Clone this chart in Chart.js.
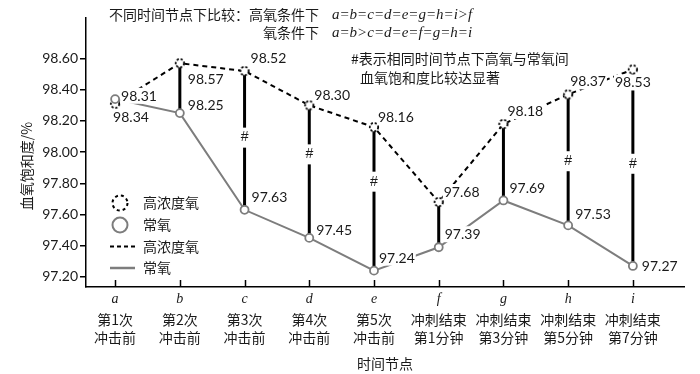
<!DOCTYPE html>
<html>
<head>
<meta charset="utf-8">
<script src="https://cdn.jsdelivr.net/npm/chart.js@4.4.1/dist/chart.umd.min.js"></script>
<style>
html,body{margin:0;padding:0;background:#fff;}
#wrap{width:700px;height:374px;position:relative;}
</style>
</head>
<body>
<div id="wrap"><canvas id="c" width="700" height="374"></canvas></div>
<script>
// ---- data ----
const categories = ['a','b','c','d','e','f','g','h','i'];
const timeLabels = [
  ['第1次','冲击前'],['第2次','冲击前'],['第3次','冲击前'],['第4次','冲击前'],['第5次','冲击前'],
  ['冲刺结束','第1分钟'],['冲刺结束','第3分钟'],['冲刺结束','第5分钟'],['冲刺结束','第7分钟']
];
const highOxygen = [98.31, 98.57, 98.52, 98.30, 98.16, 97.68, 98.18, 98.37, 98.53];
const normalOxygen = [98.34, 98.25, 97.63, 97.45, 97.24, 97.39, 97.69, 97.53, 97.27];
const significant = [false, false, true, true, true, false, false, true, true];
const yTickValues = [97.20, 97.40, 97.60, 97.80, 98.00, 98.20, 98.40, 98.60];
const seriesNames = ['高浓度氧', '常氧'];
const xTitle = '时间节点';
const yTitle = '血氧饱和度/%';
const noteLines = ['不同时间节点下比较：高氧条件下', '氧条件下'];
const noteFormulas = ['a=b=c=d=e=g=h=i>f', 'a=b>c=d=e=f=g=h=i'];
const sigNote = ['#表示相同时间节点下高氧与常氧间', '血氧饱和度比较达显著'];

// ---- styles ----
const TXT = '#1a1a1a';
const GRAY = '#7d7d7d';
const NUMFONT = '14px Lato, "Liberation Sans", sans-serif';
const CJK = '"Noto Sans CJK SC", "Noto Sans", sans-serif';

function dashedCircle(r, lw, dash) {
  const s = Math.ceil(2 * r + lw * 2 + 2);
  const cv = document.createElement('canvas');
  cv.width = s; cv.height = s;
  const g = cv.getContext('2d');
  g.fillStyle = '#fff';
  g.beginPath(); g.arc(s/2, s/2, r, 0, Math.PI*2); g.fill();
  g.strokeStyle = '#000'; g.lineWidth = lw; g.setLineDash(dash);
  g.beginPath(); g.arc(s/2, s/2, r, 0, Math.PI*2); g.stroke();
  return cv;
}
const highMarker = dashedCircle(4.2, 1.8, [2.2, 1.8]);

const highLabelPos = [[6,-8,'left'],[8,16,'left'],[6,-13,'left'],[5,-10,'left'],[4,-10,'left'],[5,-10,'left'],[4,-13,'left'],[2,-13,'left'],[0,13,'center']];
const normLabelPos = [[-2,18,'left'],[8,-8,'left'],[7,-13,'left'],[7,-8,'left'],[5,-13,'left'],[6,-13,'left'],[6,-12,'left'],[7,-11,'left'],[9,0,'left']];
const hashFrac = [0.5,0.5,0.48,0.37,0.38,0.5,0.5,0.51,0.48];

function labelText(ctx, text, x, y, align) {
  ctx.font = NUMFONT;
  const w = ctx.measureText(text).width;
  let left = align === 'center' ? x - w/2 : x;
  ctx.fillStyle = '#fff';
  ctx.fillRect(left - 1, y - 8, w + 2, 16);
  ctx.fillStyle = TXT;
  ctx.textAlign = 'left';
  ctx.textBaseline = 'middle';
  ctx.fillText(text, left, y + 0.5);
}

const annot = {
  id: 'annot',
  beforeDatasetsDraw(chart) {
    const ctx = chart.ctx, xs = chart.scales.x, ys = chart.scales.y;
    ctx.save();
    ctx.strokeStyle = '#000';
    ctx.lineWidth = 3;
    for (let i = 1; i < categories.length; i++) {
      const x = xs.getPixelForValue(i);
      ctx.beginPath();
      ctx.moveTo(x, ys.getPixelForValue(highOxygen[i]));
      ctx.lineTo(x, ys.getPixelForValue(normalOxygen[i]));
      ctx.stroke();
    }
    ctx.restore();
  },
  afterDatasetsDraw(chart) {
    const ctx = chart.ctx, xs = chart.scales.x, ys = chart.scales.y;
    ctx.save();
    // hashes
    for (let i = 0; i < categories.length; i++) {
      if (!significant[i]) continue;
      const x = xs.getPixelForValue(i);
      const y1 = ys.getPixelForValue(highOxygen[i]);
      const y2 = ys.getPixelForValue(normalOxygen[i]);
      const y = y1 + (y2 - y1) * hashFrac[i];
      ctx.fillStyle = '#fff';
      ctx.fillRect(x - 5, y - 10, 10, 20);
      ctx.fillStyle = TXT;
      ctx.font = '14px "Liberation Sans", sans-serif';
      ctx.textAlign = 'center';
      ctx.textBaseline = 'middle';
      ctx.fillText('#', x, y);
    }
    // value labels
    for (let i = 0; i < categories.length; i++) {
      const x = xs.getPixelForValue(i);
      let p = highLabelPos[i];
      labelText(ctx, highOxygen[i].toFixed(2), x + p[0], ys.getPixelForValue(highOxygen[i]) + p[1], p[2]);
      p = normLabelPos[i];
      labelText(ctx, normalOxygen[i].toFixed(2), x + p[0], ys.getPixelForValue(normalOxygen[i]) + p[1], p[2]);
    }
    ctx.restore();
  },
  afterDraw(chart) {
    const ctx = chart.ctx, xs = chart.scales.x, ys = chart.scales.y, ca = chart.chartArea;
    ctx.save();
    // x ticks (inward)
    ctx.strokeStyle = '#000';
    ctx.lineWidth = 1.5;
    for (let i = 0; i < categories.length; i++) {
      const x = Math.round(xs.getPixelForValue(i)) + 0.5;
      ctx.beginPath(); ctx.moveTo(x, ca.bottom); ctx.lineTo(x, ca.bottom - 7); ctx.stroke();
    }
    // x labels
    ctx.fillStyle = TXT;
    ctx.textAlign = 'center';
    ctx.textBaseline = 'middle';
    for (let i = 0; i < categories.length; i++) {
      const x = xs.getPixelForValue(i);
      ctx.font = 'italic 14px "Liberation Serif", serif';
      ctx.fillText(categories[i], x, ca.bottom + 12);
      ctx.font = '14px ' + CJK;
      ctx.fillText(timeLabels[i][0], x, ca.bottom + 33);
      ctx.fillText(timeLabels[i][1], x, ca.bottom + 51);
    }
    ctx.font = '14px ' + CJK;
    ctx.fillText(xTitle, (ca.left + ca.right) / 2, 364);
    // y title
    ctx.save();
    ctx.translate(27, 166);
    ctx.rotate(-Math.PI / 2);
    ctx.font = '14px ' + CJK;
    ctx.fillText(yTitle, 0, 0);
    ctx.restore();
    // top notes
    ctx.font = '14px ' + CJK;
    ctx.textAlign = 'right';
    ctx.fillText(noteLines[0], 319, 15);
    ctx.fillText(noteLines[1], 319, 33);
    ctx.font = 'italic 15px "Liberation Serif", serif';
    ctx.textAlign = 'left';
    ctx.fillText(noteFormulas[0], 332, 15);
    ctx.fillText(noteFormulas[1], 332, 33);
    ctx.font = '14px ' + CJK;
    ctx.fillText(sigNote[0], 351, 59);
    ctx.fillText(sigNote[1], 360, 78);
    // legend
    ctx.lineWidth = 2;
    ctx.strokeStyle = '#000';
    ctx.setLineDash([3, 3]);
    ctx.beginPath(); ctx.arc(120, 203, 7.5, 0, Math.PI * 2); ctx.stroke();
    ctx.setLineDash([]);
    ctx.strokeStyle = GRAY;
    ctx.beginPath(); ctx.arc(120, 225, 7.5, 0, Math.PI * 2); ctx.stroke();
    ctx.strokeStyle = '#000';
    ctx.setLineDash([4, 3]);
    ctx.beginPath(); ctx.moveTo(110, 246.5); ctx.lineTo(135, 246.5); ctx.stroke();
    ctx.setLineDash([]);
    ctx.strokeStyle = GRAY;
    ctx.lineWidth = 2.5;
    ctx.beginPath(); ctx.moveTo(110, 268); ctx.lineTo(135, 268); ctx.stroke();
    ctx.fillStyle = TXT;
    ctx.font = '14px ' + CJK;
    ctx.textAlign = 'left';
    ctx.fillText(seriesNames[0], 143, 203);
    ctx.fillText(seriesNames[1], 143, 225);
    ctx.fillText(seriesNames[0], 143, 247);
    ctx.fillText(seriesNames[1], 143, 268);
    ctx.restore();
  }
};

new Chart(document.getElementById('c'), {
  type: 'line',
  data: {
    datasets: [
      {
        label: seriesNames[0],
        data: highOxygen.map((v, i) => ({ x: i, y: v })),
        borderColor: '#000',
        borderWidth: 2,
        borderDash: [5, 4],
        pointStyle: highMarker,
        pointRadius: 5,
        tension: 0,
        order: 2
      },
      {
        label: seriesNames[1],
        data: normalOxygen.map((v, i) => ({ x: i, y: v })),
        borderColor: GRAY,
        borderWidth: 2,
        pointStyle: 'circle',
        pointRadius: 4,
        pointBorderWidth: 1.8,
        pointBorderColor: GRAY,
        pointBackgroundColor: '#fff',
        tension: 0,
        order: 1
      }
    ]
  },
  options: {
    responsive: false,
    animation: false,
    events: [],
    layout: { padding: { top: 18, right: 16, left: 0, bottom: 0 } },
    plugins: { legend: { display: false }, tooltip: { enabled: false } },
    scales: {
      x: {
        type: 'linear',
        min: -0.45,
        max: 8.79,
        grid: { display: false },
        ticks: { display: false },
        border: { display: true, color: '#000', width: 1.5 },
        afterFit(s) { s.height = 87; }
      },
      y: {
        type: 'linear',
        min: 97.135,
        max: 98.86,
        afterBuildTicks(s) { s.ticks = yTickValues.map(v => ({ value: v })); },
        grid: { drawOnChartArea: false, drawTicks: true, tickLength: 6, color: '#000', lineWidth: 1.5 },
        border: { display: true, color: '#000', width: 1.5 },
        ticks: {
          padding: 2,
          color: TXT,
          font: { family: 'Lato, "Liberation Sans", sans-serif', size: 14 },
          callback: v => Number(v).toFixed(2)
        },
        afterFit(s) { s.width = 86; }
      }
    }
  },
  plugins: [annot]
});
</script>
</body>
</html>
